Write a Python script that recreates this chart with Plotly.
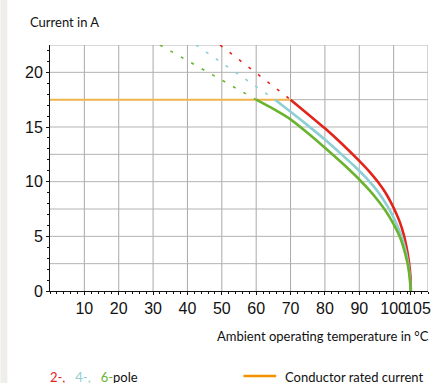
import plotly.graph_objects as go

# derating curves (temperature in deg C, current in A)
red_x = [70, 75, 80, 85, 90, 93, 95.5, 97.5, 99.2, 100.6, 101.8, 102.9, 103.7, 104.3, 104.7, 104.95, 105]
red_y = [17.5, 16.2, 14.88, 13.45, 11.9, 10.9, 9.95, 9.05, 8.1, 7.2, 6.3, 5.2, 4.1, 3.0, 2.0, 1.0, 0]

cyan_x = [65.5, 70, 75, 80, 85, 89, 92, 94.5, 96.5, 98.5, 100, 101.3, 102.4, 103.3, 103.95, 104.45, 104.8, 105]
cyan_y = [17.5, 16.4, 15.15, 13.85, 12.45, 11.3, 10.35, 9.45, 8.6, 7.6, 6.7, 5.8, 4.9, 3.95, 3.0, 2.0, 1.0, 0]

green_x = [60, 65, 70, 75, 80, 85, 90, 93, 95.5, 97.5, 99.2, 100.6, 101.8, 102.9, 103.7, 104.3, 104.7, 105]
green_y = [17.5, 16.65, 15.7, 14.45, 13.1, 11.7, 10.2, 9.2, 8.25, 7.4, 6.55, 5.75, 4.95, 3.95, 3.0, 2.1, 1.1, 0]

# dotted extensions above the rated current
red_dash_x = [49.5, 70]
red_dash_y = [22.5, 17.5]
cyan_dash_x = [42.5, 65.5]
cyan_dash_y = [22.5, 17.5]
green_dash_x = [32, 60]
green_dash_y = [22.5, 17.5]

# conductor rated current
rated_x = [0, 70]
rated_y = [17.5, 17.5]

x_tickvals = [10, 20, 30, 40, 50, 60, 70, 80, 90, 100, 105]
x_ticktext = ["10", "20", "30", "40", "50", "60", "70", "80", "90", "100", "&nbsp;&nbsp;&nbsp;105"]
y_tickvals = [0, 5, 10, 15, 20]
grid_x = [10, 20, 30, 40, 50, 60, 70, 80, 90, 100, 110]
grid_y = [2.5, 5, 7.5, 10, 12.5, 15, 17.5, 20, 22.5]

RED = "#e3241b"
CYAN = "#8dcfd5"
GREEN = "#69b32e"
ORANGE_LINE = "#f2b54e"
ORANGE_LEG = "#f39200"

W, H = 434, 383
ML, MR, MT, MB = 50, 3, 45, 92
PW, PH = W - ML - MR, H - MT - MB


def paper(xp, yp):
	# pixel position -> paper coordinates
	return (xp - ML) / PW, (H - MB - yp) / PH


num_font = dict(family="Liberation Sans Narrow, Arial Narrow, sans-serif", size=16, color="#111111")
txt_font = "Lato, Noto Sans, sans-serif"

fig = go.Figure()

fig.add_trace(go.Scatter(x=rated_x, y=rated_y, mode="lines",
	line=dict(color=ORANGE_LINE, width=2), name="rated"))

for dx, dy, col in [(green_dash_x, green_dash_y, GREEN), (cyan_dash_x, cyan_dash_y, CYAN), (red_dash_x, red_dash_y, RED)]:
	fig.add_trace(go.Scatter(x=dx, y=dy, mode="lines",
		line=dict(color=col, width=1.6, dash="3px,9px")))

for cx, cy, col in [(red_x, red_y, RED), (cyan_x, cyan_y, CYAN), (green_x, green_y, GREEN)]:
	fig.add_trace(go.Scatter(x=cx, y=cy, mode="lines",
		line=dict(color=col, width=2.6, shape="spline", smoothing=0.5)))

# grid
for gx in grid_x:
	fig.add_shape(type="line", xref="x", yref="y", x0=gx, x1=gx, y0=0, y1=22.5,
		layer="below", line=dict(color="#a9a9a9", width=1))
for gy in grid_y:
	fig.add_shape(type="line", xref="x", yref="y", x0=0, x1=110, y0=gy, y1=gy,
		layer="below", line=dict(color="#b3b3b3", width=1))

# light strip at the left page edge
sx0, sy0 = paper(0, H)
sx1, sy1 = paper(7, 0)
fig.add_shape(type="rect", xref="paper", yref="paper", x0=sx0, x1=sx1, y0=sy0, y1=sy1,
	layer="below", line=dict(width=0), fillcolor="#efeeeb")

# legend line
lx0, ly = paper(245, 376)
lx1, _ = paper(278, 376)
fig.add_shape(type="line", xref="paper", yref="paper", x0=lx0, x1=lx1, y0=ly, y1=ly,
	line=dict(color=ORANGE_LEG, width=2.5))

ax, ay = paper(28, 22)
fig.add_annotation(xref="paper", yref="paper", x=ax, y=ay, xanchor="left", yanchor="middle",
	text="Current in A", showarrow=False, font=dict(family=txt_font, size=13, color="#111111"))

ax, ay = paper(434, 336)
fig.add_annotation(xref="paper", yref="paper", x=ax, y=ay, xanchor="right", yanchor="middle",
	text="Ambient operating temperature in °C", showarrow=False,
	font=dict(family=txt_font, size=13, color="#111111"))

ax, ay = paper(48, 377)
fig.add_annotation(xref="paper", yref="paper", x=ax, y=ay, xanchor="left", yanchor="middle",
	text=f"<span style='color:{RED}'>2-,</span>&nbsp;&nbsp;&nbsp;<span style='color:{CYAN}'>4-,</span>"
	f"&nbsp;&nbsp;&nbsp;<span style='color:{GREEN}'>6-</span>pole",
	showarrow=False, font=dict(family=txt_font, size=13, color="#111111"))

ax, ay = paper(285, 377)
fig.add_annotation(xref="paper", yref="paper", x=ax, y=ay, xanchor="left", yanchor="middle",
	text="Conductor rated current", showarrow=False,
	font=dict(family=txt_font, size=13, color="#111111"))

fig.update_layout(
	width=W, height=H,
	margin=dict(l=ML, r=MR, t=MT, b=MB),
	paper_bgcolor="white", plot_bgcolor="white",
	showlegend=False,
	xaxis=dict(range=[0, 110], tickvals=x_tickvals, ticktext=x_ticktext, tickangle=0,
		showgrid=False, zeroline=False, showline=True, linecolor="#111111", linewidth=1,
		ticks="outside", ticklen=3, tickcolor="#111111", tickfont=num_font,
		minor=dict(dtick=2, tick0=0, ticks="outside", ticklen=2, tickcolor="#111111", showgrid=False)),
	yaxis=dict(range=[0, 22.5], tickvals=y_tickvals,
		showgrid=False, zeroline=False, showline=True, linecolor="#111111", linewidth=1,
		ticks="outside", ticklen=3, tickcolor="#111111", tickfont=num_font,
		minor=dict(dtick=1, tick0=0, ticks="outside", ticklen=2, tickcolor="#111111", showgrid=False)),
)

fig.write_html("out.html", config={"displayModeBar": False},
	post_script="document.body.style.margin='0';document.body.style.overflow='hidden';")
